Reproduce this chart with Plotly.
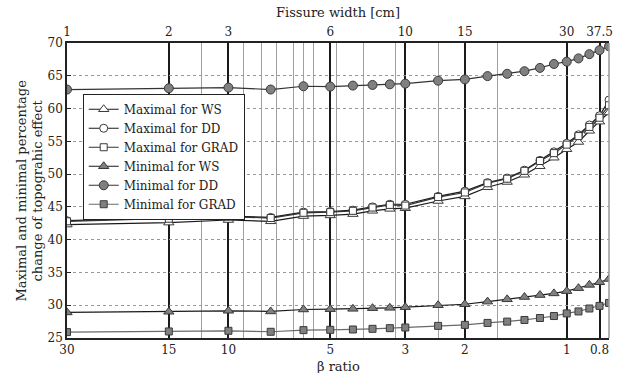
import plotly.graph_objects as go

# ---- data ----
fissure_width = [1, 2, 3, 4, 5, 6, 7, 8, 9, 10, 12.5, 15, 17.5, 20, 22.5, 25, 27.5, 30, 32.5, 35, 37.5, 40]

max_ws = [42.3, 42.6, 43.0, 42.8, 43.6, 43.7, 43.9, 44.4, 44.7, 44.8, 45.9, 46.6, 48.0, 48.8, 49.9, 51.2, 52.5, 53.8, 54.9, 56.6, 58.0, 59.4]
max_dd = [42.9, 43.3, 43.6, 43.4, 44.2, 44.3, 44.5, 45.0, 45.4, 45.4, 46.6, 47.4, 48.7, 49.4, 50.6, 52.1, 53.4, 54.7, 56.0, 57.5, 58.9, 61.3]
max_grad = [42.8, 43.2, 43.5, 43.3, 44.1, 44.2, 44.4, 44.9, 45.3, 45.2, 46.5, 47.2, 48.6, 49.3, 50.5, 52.0, 53.2, 54.5, 55.8, 57.2, 58.6, 60.5]
min_ws = [28.9, 29.0, 29.15, 29.05, 29.35, 29.4, 29.45, 29.55, 29.6, 29.7, 30.0, 30.15, 30.55, 30.9, 31.25, 31.55, 31.8, 32.15, 32.6, 33.1, 33.5, 34.0]
min_dd = [62.9, 63.1, 63.2, 62.9, 63.4, 63.35, 63.5, 63.6, 63.7, 63.8, 64.25, 64.45, 64.95, 65.3, 65.7, 66.2, 66.8, 67.15, 67.65, 68.3, 68.9, 69.5]
min_grad = [25.9, 26.0, 26.1, 25.95, 26.2, 26.25, 26.3, 26.4, 26.5, 26.6, 26.85, 27.0, 27.3, 27.5, 27.75, 28.05, 28.35, 28.75, 29.05, 29.5, 29.9, 30.35]

top_ticks = [1, 2, 3, 6, 10, 15, 30, 37.5]
top_labels = ["1", "2", "3", "6", "10", "15", "30", "37.5"]
beta_ticks = [30, 15, 10, 5, 3, 2, 1, 0.8]
beta_labels = ["30", "15", "10", "5", "3", "2", "1", "0.8"]
minor_beta = [12, 9, 8, 7.2, 6.4, 6, 5.6, 4.8, 4, 3.2, 2.4, 1.6]
y_ticks = [25, 30, 35, 40, 45, 50, 55, 60, 65, 70]

BETA_REF = 30.0
beta_pos = [BETA_REF / b for b in beta_ticks]
minor_pos = [BETA_REF / b for b in minor_beta]

FONT = "DejaVu Serif"
GRAY = "#808080"
EDGE = "#3a3a3a"

series = [
    ("Maximal for WS", max_ws, "triangle-up", "white", "#1a1a1a", 9),
    ("Maximal for DD", max_dd, "circle", "white", "#1a1a1a", 8),
    ("Maximal for GRAD", max_grad, "square", "white", "#333333", 7),
    ("Minimal for WS", min_ws, "triangle-up", GRAY, "#1a1a1a", 9),
    ("Minimal for DD", min_dd, "circle", GRAY, "#333333", 9),
    ("Minimal for GRAD", min_grad, "square", GRAY, "#6a6a6a", 7),
]

fig = go.Figure()
for name, vals, sym, fill, lc, sz in series:
    fig.add_trace(go.Scatter(
        x=fissure_width, y=vals, name=name, mode="lines+markers",
        line=dict(color=lc, width=1.2),
        marker=dict(symbol=sym, size=sz, color=fill, line=dict(color=EDGE, width=1)),
    ))

xr = [0, 1.60206]
fig.update_layout(
    width=624, height=373,
    margin=dict(l=67, r=11, t=43, b=35),
    plot_bgcolor="white", paper_bgcolor="white",
    font=dict(family=FONT, size=12, color="#222"),
    showlegend=True,
    legend=dict(x=0.029, y=0.828, xanchor="left", yanchor="top",
                bgcolor="white", bordercolor="#222", borderwidth=1,
                font=dict(size=12, family=FONT), tracegroupgap=0),
    xaxis=dict(type="log", range=xr, tickmode="array", tickvals=beta_pos, ticktext=beta_labels,
               showgrid=True, gridcolor="#1a1a1a", gridwidth=1.5,
               minor=dict(tickmode="array", tickvals=minor_pos, showgrid=True,
                          gridcolor="#a0a0a0", gridwidth=1, ticks=""),
               showline=True, linecolor="#222", linewidth=1.5, ticks="",
               zeroline=False, tickfont=dict(size=12)),
    xaxis2=dict(type="log", range=xr, overlaying="x", side="top", anchor="y",
                tickmode="array", tickvals=top_ticks, ticktext=top_labels,
                showgrid=False, showline=True, linecolor="#222", linewidth=1.5, ticks="",
                tickfont=dict(size=12)),
    yaxis=dict(range=[25, 70], tickmode="array", tickvals=y_ticks,
               showgrid=True, gridcolor="#999", griddash="dot", gridwidth=1,
               showline=True, linecolor="#222", linewidth=1.5,
               ticks="inside", ticklen=4, tickcolor="#222",
               zeroline=False, tickfont=dict(size=12)),
    shapes=[dict(type="line", xref="paper", yref="paper", x0=1, x1=1, y0=0, y1=1,
                 line=dict(color="#999", width=1.5))],
    annotations=[
        dict(text="Fissure width [cm]", xref="paper", yref="paper", x=0.5, y=1.105,
             xanchor="center", yanchor="middle", showarrow=False, font=dict(size=13)),
        dict(text="β ratio", xref="paper", yref="paper", x=0.5, y=-0.097,
             xanchor="center", yanchor="middle", showarrow=False, font=dict(size=13)),
        dict(text="Maximal and minimal percentage<br>change of topograhic effect",
             xref="paper", yref="paper", x=-0.07, y=0.5, textangle=-90,
             xanchor="center", yanchor="middle", showarrow=False, font=dict(size=13)),
    ],
)
# invisible trace to activate the top axis
fig.add_trace(go.Scatter(x=[1], y=[25], xaxis="x2", showlegend=False, mode="markers",
                         marker=dict(opacity=0), hoverinfo="skip"))

fig.write_html("out.html")
